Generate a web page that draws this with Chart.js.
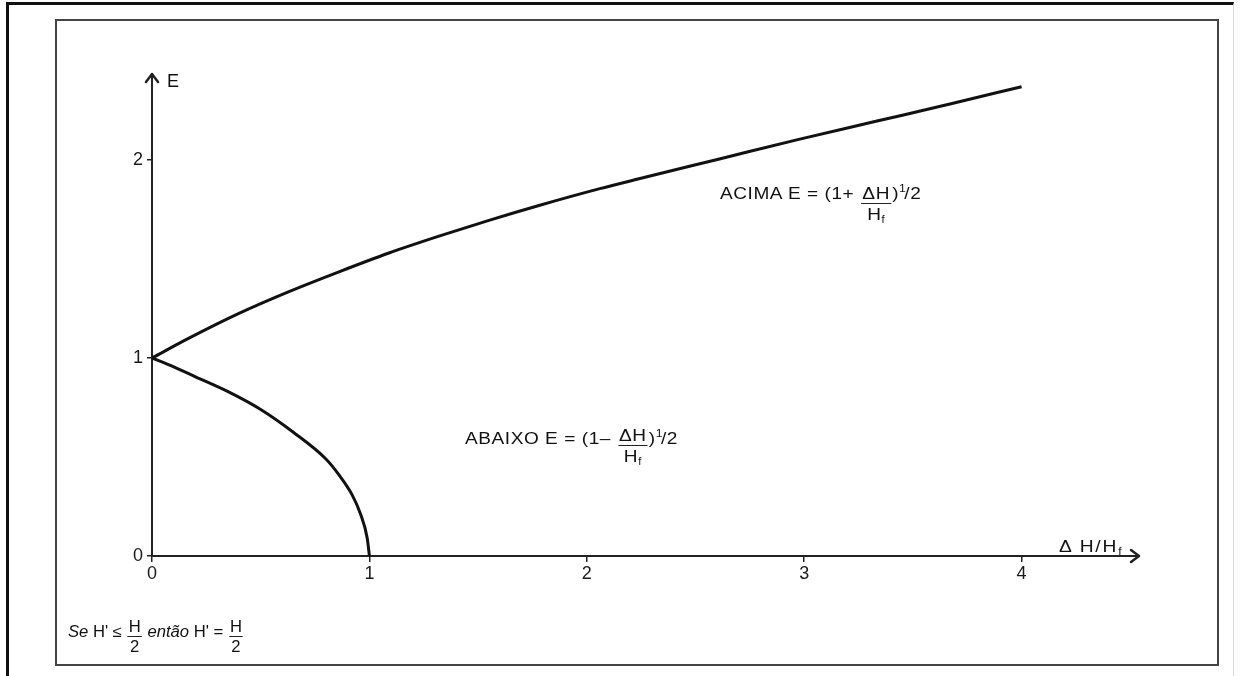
<!DOCTYPE html>
<html>
<head>
<meta charset="utf-8">
<script src="https://cdn.jsdelivr.net/npm/chart.js@4"></script>
<style>
  body { margin: 0; background: #fff; font-family: "Liberation Sans", Arial, sans-serif; color: #222; }
  #wrap { position: relative; width: 1241px; height: 676px; overflow: hidden; }
  #chart { position: absolute; left: 0; top: 0; }
  .outer { position: absolute; left: 6px; top: 2px; width: 1224px; height: 680px;
           border-top: 3px solid #111; border-left: 3px solid #111; border-right: 1px solid #d8d8d8; }
  .inner { position: absolute; left: 55px; top: 19px; width: 1160px; height: 643px; border: 2px solid #444; }
  .txt { position: absolute; line-height: 1; white-space: nowrap; color: #111; transform-origin: left top; }
  .frac { display: inline-flex; flex-direction: column; align-items: center; vertical-align: baseline;
          line-height: 1; margin: 0 1px; }
  .frac .num { border-bottom: 1.5px solid #222; padding: 0 1px 1px; }
  .frac .den { padding-top: 2px; }
  .sub { font-size: 10px; vertical-align: -3px; }
  .half .one { font-size: 11px; vertical-align: 7px; }
  .half .sl { margin-left: -2px; }
</style>
</head>
<body>
<div id="wrap">
  <canvas id="chart" width="1241" height="676"></canvas>
  <div class="outer"></div>
  <div class="inner"></div>

  <div class="txt" style="left:167px; top:72px; font-size:18px;">E</div>
  <div class="txt" style="left:1059px; top:539px; font-size:16px; letter-spacing:1.5px; transform:scaleX(1.2);">&Delta; H/H<span class="sub">f</span></div>

  <div class="txt" style="left:720px; top:183px; font-size:17px; letter-spacing:0.5px; transform:scaleX(1.12);">ACIMA E = (1+ <span class="frac"><span class="num">&Delta;H</span><span class="den">H<span class="sub">f</span></span></span>)<span class="half"><span class="one">1</span><span class="sl">/</span>2</span></div>

  <div class="txt" style="left:465px; top:427px; font-size:17px; letter-spacing:0.5px; transform:scaleX(1.12);">ABAIXO E = (1&ndash; <span class="frac" style="vertical-align:3px;"><span class="num">&Delta;H</span><span class="den">H<span class="sub">f</span></span></span>)<span class="half"><span class="one">1</span><span class="sl">/</span>2</span></div>

  <div class="txt" style="left:68px; top:619px; font-size:16px; transform:scaleX(1.04);"><i>Se</i> H' &le; <span class="frac" style="vertical-align:5px;"><span class="num">H</span><span class="den">2</span></span> <i>ent&atilde;o</i> H' = <span class="frac" style="vertical-align:5px;"><span class="num">H</span><span class="den">2</span></span></div>
</div>

<script>
// values
const xTicks = [0, 1, 2, 3, 4];
const yTicks = [0, 1, 2];

const upperX = [0, 0.17, 0.40, 0.63, 0.86, 1.09, 1.32, 1.55, 1.78, 2.06, 2.24, 2.61, 2.98, 3.33, 3.68, 4.0];
const upperE = [1.0, 1.10, 1.225, 1.335, 1.435, 1.53, 1.615, 1.695, 1.77, 1.855, 1.905, 2.005, 2.105, 2.195, 2.285, 2.37];

const lowerX = [0, 0.1, 0.2, 0.35, 0.5, 0.65, 0.8, 0.86, 0.92, 0.96, 0.99, 1.0];
const lowerE = [1.0, 0.955, 0.905, 0.83, 0.74, 0.625, 0.49, 0.41, 0.31, 0.21, 0.09, 0.0];

const toPoints = (xs, ys) => xs.map((x, i) => ({ x: x, y: ys[i] }));

// open arrow heads at the ends of both axes
const axisArrows = {
    id: 'axisArrows',
    afterDraw(chart) {
        const { ctx, chartArea } = chart;
        ctx.save();
        ctx.strokeStyle = '#222';
        ctx.lineWidth = 2.5;
        ctx.lineCap = 'round';
        ctx.lineJoin = 'round';
        ctx.beginPath();
        ctx.moveTo(chartArea.right - 8, chartArea.bottom - 6);
        ctx.lineTo(chartArea.right, chartArea.bottom);
        ctx.lineTo(chartArea.right - 8, chartArea.bottom + 6);
        ctx.moveTo(chartArea.left - 6, chartArea.top + 8);
        ctx.lineTo(chartArea.left, chartArea.top);
        ctx.lineTo(chartArea.left + 6, chartArea.top + 8);
        ctx.stroke();
        ctx.restore();
    }
};

const tickFont = { family: 'Liberation Sans', size: 18 };

new Chart(document.getElementById('chart').getContext('2d'), {
    type: 'scatter',
    data: {
        datasets: [
            {
                label: 'ACIMA',
                data: toPoints(upperX, upperE),
                showLine: true,
                borderColor: '#111',
                borderWidth: 3,
                pointRadius: 0,
                cubicInterpolationMode: 'monotone'
            },
            {
                label: 'ABAIXO',
                data: toPoints(lowerX, lowerE),
                showLine: true,
                borderColor: '#111',
                borderWidth: 3,
                pointRadius: 0,
                cubicInterpolationMode: 'monotone'
            }
        ]
    },
    options: {
        responsive: false,
        animation: false,
        layout: { padding: { left: 112, right: 102, top: 74, bottom: 80 } },
        plugins: { legend: { display: false }, tooltip: { enabled: false } },
        scales: {
            x: {
                type: 'linear',
                min: 0,
                max: 4.54,
                afterBuildTicks: s => { s.ticks = xTicks.map(v => ({ value: v })); },
                afterFit: s => { s.height = 40; },
                grid: { drawOnChartArea: false, tickLength: 6, tickColor: '#222', lineWidth: 1.5 },
                border: { display: true, color: '#222', width: 2 },
                ticks: { font: tickFont, color: '#1a1a1a', padding: 1, maxRotation: 0 }
            },
            y: {
                type: 'linear',
                min: 0,
                max: 2.434,
                afterBuildTicks: s => { s.ticks = yTicks.map(v => ({ value: v })); },
                afterFit: s => { s.width = 40; },
                grid: { drawOnChartArea: false, tickLength: 5, tickColor: '#222', lineWidth: 1.5 },
                border: { display: true, color: '#222', width: 2 },
                ticks: { font: tickFont, color: '#1a1a1a', padding: 4 }
            }
        }
    },
    plugins: [axisArrows]
});
</script>
</body>
</html>
